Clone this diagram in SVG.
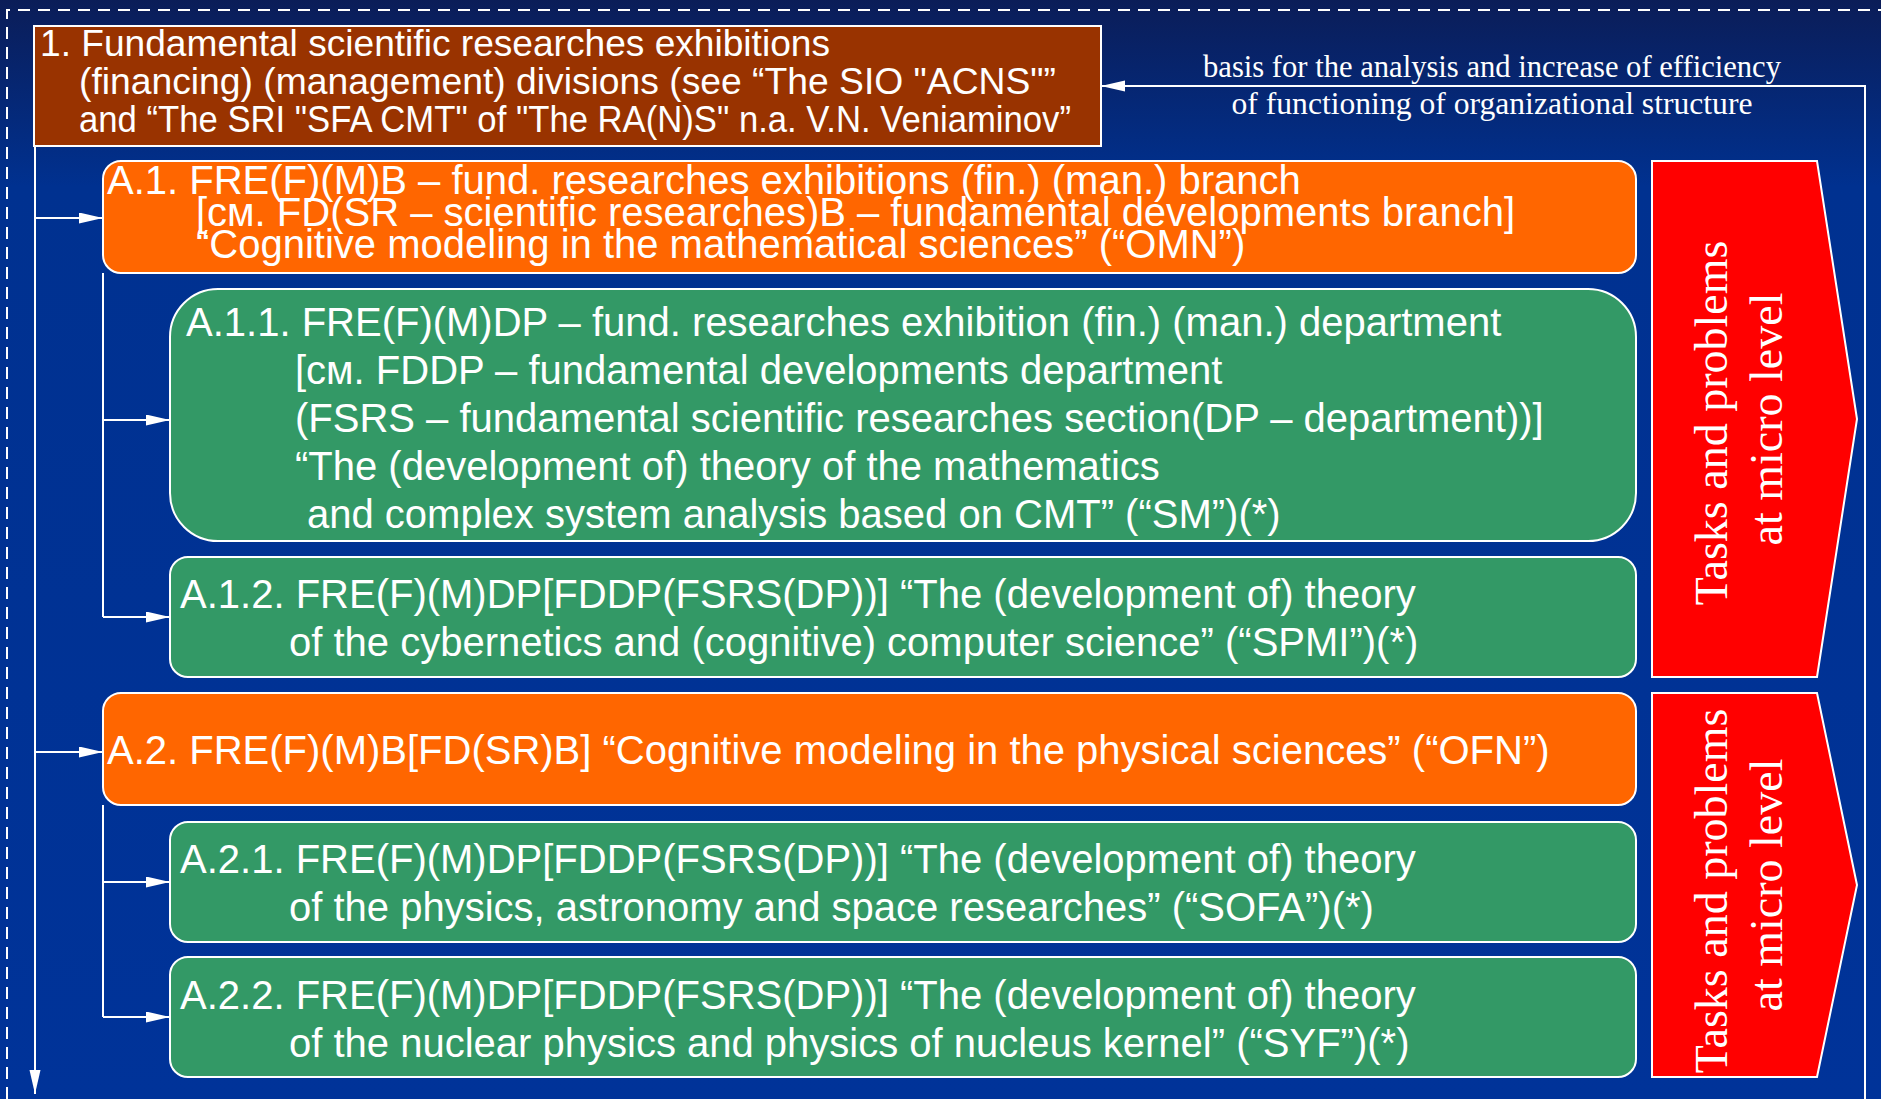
<svg xmlns="http://www.w3.org/2000/svg" width="1881" height="1099" viewBox="0 0 1881 1099">
<defs>
<linearGradient id="bg" x1="0" y1="0" x2="0" y2="1">
<stop offset="0" stop-color="#0b1d58"/>
<stop offset="0.17" stop-color="#003190"/>
<stop offset="1" stop-color="#003399"/>
</linearGradient>
<marker id="arr" markerUnits="userSpaceOnUse" markerWidth="26" markerHeight="12" refX="24" refY="5.5" orient="auto">
<path d="M0,0 L24,5.5 L0,11 z" fill="#fff"/>
</marker>
<style>
.sans{font-family:"Liberation Sans",Arial,sans-serif;fill:#fff;font-size:40px}
.brn{font-size:36px}
.serif{font-family:"Liberation Serif","Times New Roman",serif;fill:#fff}
.box{stroke:#fff;stroke-width:2}
.og{fill:#ff6600}
.gr{fill:#339966}
.rd{fill:#ff0000}
.ln{fill:none;stroke:#fff;stroke-width:2}
</style>
</defs>
<rect x="0" y="0" width="1881" height="1099" fill="url(#bg)"/>
<polyline points="7,1099 7,10 1881,10" fill="none" stroke="#fff" stroke-width="2" stroke-dasharray="12,8"/>

<g id="connectors">
<line class="ln" x1="35" y1="146" x2="35" y2="1094" marker-end="url(#arr)"/>
<line class="ln" x1="35" y1="218" x2="103" y2="218" marker-end="url(#arr)"/>
<line class="ln" x1="35" y1="752" x2="103" y2="752" marker-end="url(#arr)"/>
<polyline class="ln" points="103,273 103,617"/>
<line class="ln" x1="103" y1="420" x2="170" y2="420" marker-end="url(#arr)"/>
<line class="ln" x1="103" y1="617" x2="170" y2="617" marker-end="url(#arr)"/>
<polyline class="ln" points="103,805 103,1017"/>
<line class="ln" x1="103" y1="882" x2="170" y2="882" marker-end="url(#arr)"/>
<line class="ln" x1="103" y1="1017" x2="170" y2="1017" marker-end="url(#arr)"/>
<polyline class="ln" points="1865,1099 1865,86 1101,86" marker-end="url(#arr)"/>
<text class="serif" font-size="31" text-anchor="middle" x="1492" y="77" textLength="578" lengthAdjust="spacingAndGlyphs">basis for the analysis and increase of efficiency</text>
<text class="serif" font-size="31" text-anchor="middle" x="1492" y="114" textLength="521" lengthAdjust="spacingAndGlyphs">of functioning of organizational structure</text>
</g>

<g id="n1">
<rect class="box" x="34" y="26" width="1067" height="120" fill="#993300"/>
<text class="sans brn" x="40" y="56" textLength="790" lengthAdjust="spacingAndGlyphs">1. Fundamental scientific researches exhibitions</text>
<text class="sans brn" x="79" y="94" textLength="977" lengthAdjust="spacingAndGlyphs">(financing) (management) divisions (see “The SIO "ACNS"”</text>
<text class="sans brn" x="79" y="132" textLength="992" lengthAdjust="spacingAndGlyphs">and “The SRI "SFA CMT" of "The RA(N)S" n.a. V.N. Veniaminov”</text>
</g>

<g id="a1">
<rect class="box og" x="103" y="161" width="1533" height="112" rx="18"/>
<text class="sans" x="107" y="194">A.1. FRE(F)(M)B – fund. researches exhibitions (fin.) (man.) branch</text>
<text class="sans" x="196" y="226">[см. FD(SR – scientific researches)B – fundamental developments branch]</text>
<text class="sans" x="196" y="258">“Cognitive modeling in the mathematical sciences” (“OMN”)</text>
</g>

<g id="a11">
<rect class="box gr" x="170" y="289" width="1466" height="252" rx="48"/>
<text class="sans" x="186" y="336">A.1.1. FRE(F)(M)DP – fund. researches exhibition (fin.) (man.) department</text>
<text class="sans" x="295" y="384">[см. FDDP – fundamental developments department</text>
<text class="sans" x="295" y="432">(FSRS – fundamental scientific researches section(DP – department))]</text>
<text class="sans" x="295" y="480">“The (development of) theory of the mathematics</text>
<text class="sans" x="307" y="528">and complex system analysis based on CMT” (“SM”)(*)</text>
</g>

<g id="a12">
<rect class="box gr" x="170" y="557" width="1466" height="120" rx="18"/>
<text class="sans" x="180" y="608">A.1.2. FRE(F)(M)DP[FDDP(FSRS(DP))] “The (development of) theory</text>
<text class="sans" x="289" y="656">of the cybernetics and (cognitive) computer science” (“SPMI”)(*)</text>
</g>

<g id="a2">
<rect class="box og" x="103" y="693" width="1533" height="112" rx="18"/>
<text class="sans" x="107" y="764">A.2. FRE(F)(M)B[FD(SR)B] “Cognitive modeling in the physical sciences” (“OFN”)</text>
</g>

<g id="a21">
<rect class="box gr" x="170" y="822" width="1466" height="120" rx="18"/>
<text class="sans" x="180" y="873">A.2.1. FRE(F)(M)DP[FDDP(FSRS(DP))] “The (development of) theory</text>
<text class="sans" x="289" y="921">of the physics, astronomy and space researches” (“SOFA”)(*)</text>
</g>

<g id="a22">
<rect class="box gr" x="170" y="957" width="1466" height="120" rx="18"/>
<text class="sans" x="180" y="1009">A.2.2. FRE(F)(M)DP[FDDP(FSRS(DP))] “The (development of) theory</text>
<text class="sans" x="289" y="1057">of the nuclear physics and physics of nucleus kernel” (“SYF”)(*)</text>
</g>

<g id="t1">
<polygon class="box rd" points="1652,161 1817,161 1857,419 1817,677 1652,677"/>
<text class="serif" font-size="46" text-anchor="middle" transform="translate(1727,423) rotate(-90)">Tasks and problems</text>
<text class="serif" font-size="46" text-anchor="middle" transform="translate(1782,419) rotate(-90)">at micro level</text>
</g>

<g id="t2">
<polygon class="box rd" points="1652,693 1817,693 1857,885 1817,1077 1652,1077"/>
<text class="serif" font-size="46" text-anchor="middle" transform="translate(1727,891) rotate(-90)">Tasks and problems</text>
<text class="serif" font-size="46" text-anchor="middle" transform="translate(1782,885) rotate(-90)">at micro level</text>
</g>
</svg>
